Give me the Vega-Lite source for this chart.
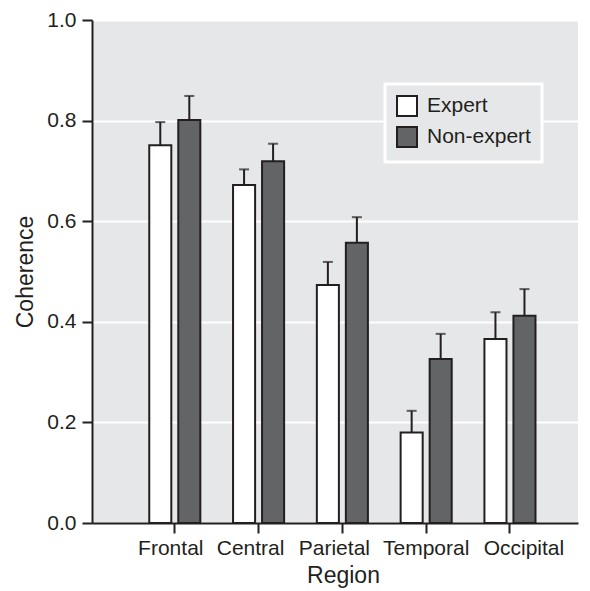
{
  "$schema": "https://vega.github.io/schema/vega-lite/v6.json",
  "width": 486,
  "height": 503,
  "autosize": {"type": "none"},
  "padding": {"left": 92, "top": 20, "right": 12, "bottom": 68},
  "background": "white",
  "data": {
    "values": [
      {"region": "Frontal", "group": "Expert", "value": 0.751, "upper": 0.797},
      {"region": "Frontal", "group": "Non-expert", "value": 0.801, "upper": 0.849},
      {"region": "Central", "group": "Expert", "value": 0.672, "upper": 0.703},
      {"region": "Central", "group": "Non-expert", "value": 0.719, "upper": 0.754},
      {"region": "Parietal", "group": "Expert", "value": 0.473, "upper": 0.519},
      {"region": "Parietal", "group": "Non-expert", "value": 0.557, "upper": 0.608},
      {"region": "Temporal", "group": "Expert", "value": 0.180, "upper": 0.223},
      {"region": "Temporal", "group": "Non-expert", "value": 0.326, "upper": 0.376},
      {"region": "Occipital", "group": "Expert", "value": 0.366, "upper": 0.419},
      {"region": "Occipital", "group": "Non-expert", "value": 0.412, "upper": 0.465}
    ]
  },
  "config": {
    "view": {"fill": "#e6e7e8", "stroke": null},
    "font": "Liberation Sans",
    "axis": {
      "labelFont": "Liberation Sans",
      "titleFont": "Liberation Sans",
      "labelColor": "#231f20",
      "titleColor": "#231f20",
      "labelFontSize": 21,
      "titleFontSize": 23,
      "titleFontWeight": "normal",
      "domainColor": "#231f20",
      "domainWidth": 2,
      "tickColor": "#231f20",
      "tickWidth": 2,
      "tickSize": 10
    }
  },
  "encoding": {
    "x": {
      "field": "region",
      "type": "nominal",
      "sort": ["Frontal", "Central", "Parietal", "Temporal", "Occipital"],
      "scale": {"paddingInner": 0, "paddingOuter": 0.4, "align": 0.61},
      "axis": {
        "title": "Region",
        "labelAngle": 0,
        "labelPadding": 4,
        "titlePadding": 6,
        "titleX": 251,
        "grid": false,
        "labelFontSize": 21,
        "titleFontSize": 23,
        "labelOffset": {
          "condition": [
            {"test": "datum.value === 'Frontal'", "value": -4},
            {"test": "datum.value === 'Central'", "value": -8},
            {"test": "datum.value === 'Parietal'", "value": -8},
            {"test": "datum.value === 'Occipital'", "value": 14}
          ],
          "value": 0
        }
      }
    },
    "xOffset": {
      "field": "group",
      "type": "nominal",
      "sort": ["Expert", "Non-expert"],
      "scale": {"paddingInner": 0.24, "paddingOuter": 0.564}
    }
  },
  "layer": [
    {
      "mark": {"type": "bar", "stroke": "#231f20", "strokeWidth": 2},
      "encoding": {
        "y": {
          "field": "value",
          "type": "quantitative",
          "scale": {"domain": [0, 1]},
          "axis": {
            "title": "Coherence",
            "values": [0, 0.2, 0.4, 0.6, 0.8, 1.0],
            "format": ".1f",
            "grid": true,
            "gridColor": "white",
            "gridWidth": 2,
            "labelPadding": 6,
            "titlePadding": 9,
            "labelFontSize": 21,
            "titleFontSize": 23
          }
        },
        "fill": {
          "field": "group",
          "type": "nominal",
          "scale": {"domain": ["Expert", "Non-expert"], "range": ["white", "#636466"]},
          "legend": {
            "title": null,
            "orient": "none",
            "legendX": 293,
            "legendY": 64,
            "padding": 11,
            "strokeColor": "white",
            "fillColor": "#e6e7e8",
            "symbolType": "square",
            "symbolSize": 400,
            "symbolStrokeColor": "#231f20",
            "symbolStrokeWidth": 2,
            "labelFontSize": 21,
            "labelColor": "#231f20",
            "labelFont": "Liberation Sans",
            "labelOffset": 9,
            "rowPadding": 3,
            "encode": {
              "legend": {"update": {"strokeWidth": {"value": 3}}}
            }
          }
        }
      }
    },
    {
      "mark": {"type": "rule", "color": "#231f20", "strokeWidth": 2},
      "encoding": {
        "y": {"field": "value", "type": "quantitative"},
        "y2": {"field": "upper"}
      }
    },
    {
      "mark": {"type": "tick", "color": "#231f20", "size": 10, "thickness": 2, "orient": "horizontal"},
      "encoding": {
        "y": {"field": "upper", "type": "quantitative"}
      }
    }
  ]
}
